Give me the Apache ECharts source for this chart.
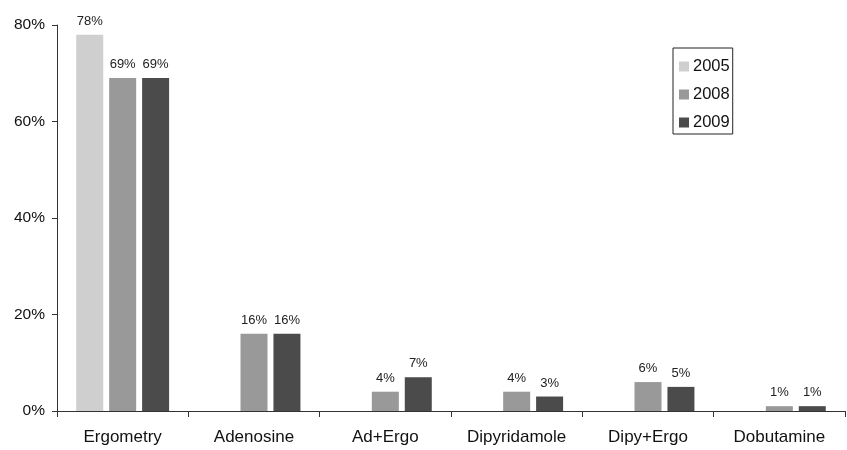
<!DOCTYPE html>
<html>
<head>
<meta charset="utf-8">
<script src="https://cdn.jsdelivr.net/npm/echarts@6/dist/echarts.min.js"></script>
<style>
  html, body { margin: 0; padding: 0; background: #fff; }
  #chart { width: 847px; height: 450px; }
</style>
</head>
<body>
<div id="chart"></div>
<script>
// Stress test methods by year (share of all tests, %)
const categories = ['Ergometry', 'Adenosine', 'Ad+Ergo', 'Dipyridamole', 'Dipy+Ergo', 'Dobutamine'];
const years = ['2005', '2008', '2009'];
const values2005 = [78, null, null, null, null, null];
const values2008 = [69, 16, 4, 4, 6, 1];
const values2009 = [69, 16, 7, 3, 5, 1];
const yTicks = [0, 20, 40, 60, 80];

const colors = ['#cfcfcf', '#999999', '#4b4b4b'];
const font = '"Liberation Sans", Arial, Helvetica, sans-serif';
const axisColor = '#333333';

function barSeries(name, data, color) {
  return {
    name: name,
    type: 'bar',
    data: data,
    barWidth: 27,
    barGap: '22%',
    itemStyle: { color: color },
    label: {
      show: true,
      position: 'top',
      distance: 7,
      formatter: p => (p.value == null ? '' : p.value + '%'),
      fontFamily: font,
      fontSize: 13,
      color: '#222'
    }
  };
}

const chart = echarts.init(document.getElementById('chart'), null, { renderer: 'canvas' });
chart.setOption({
  animation: false,
  backgroundColor: '#ffffff',
  textStyle: { fontFamily: font },
  grid: { left: 57, right: 2, top: 25, bottom: 39, containLabel: false },
  legend: {
    data: years,
    orient: 'vertical',
    left: 673,
    top: 48,
    itemWidth: 10,
    itemHeight: 10,
    itemGap: 11,
    padding: [10, 3, 3, 6],
    borderColor: '#222',
    borderWidth: 1,
    icon: 'rect',
    textStyle: { fontFamily: font, fontSize: 16.5, color: '#111', padding: [0, 0, 0, -1] }
  },
  xAxis: {
    type: 'category',
    data: categories,
    axisLine: { lineStyle: { color: axisColor, width: 1 } },
    axisTick: { show: true, length: 6, lineStyle: { color: axisColor } },
    axisLabel: { margin: 18, fontFamily: font, fontSize: 17, color: '#111' }
  },
  yAxis: {
    type: 'value',
    min: yTicks[0],
    max: yTicks[yTicks.length - 1],
    interval: 20,
    axisLine: { show: true, lineStyle: { color: axisColor, width: 1 } },
    axisTick: { show: true, length: 5, lineStyle: { color: axisColor } },
    splitLine: { show: false },
    axisLabel: {
      margin: 12,
      fontFamily: font,
      fontSize: 15.5,
      color: '#111',
      formatter: v => v + '%'
    }
  },
  series: [
    barSeries(years[0], values2005, colors[0]),
    barSeries(years[1], values2008, colors[1]),
    barSeries(years[2], values2009, colors[2])
  ]
});
</script>
</body>
</html>
